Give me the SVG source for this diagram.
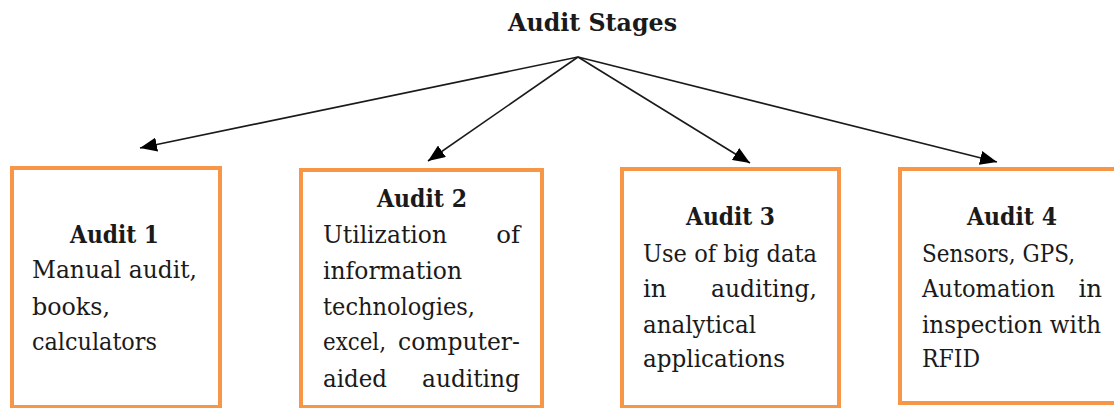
<svg xmlns="http://www.w3.org/2000/svg" width="1114" height="408" viewBox="0 0 1114 408">
  <style>
    .box { fill: #ffffff; stroke: #F79646; stroke-width: 4; }
    .t { font-family: "DejaVu Serif", "Liberation Serif", serif; font-size: 24.5px; fill: #1a1a1a; }
    .h { font-family: "DejaVu Serif", "Liberation Serif", serif; font-size: 24.5px; font-weight: bold; fill: #1a1a1a; text-anchor: middle; }
    .title { font-family: "DejaVu Serif", "Liberation Serif", serif; font-size: 25px; font-weight: bold; fill: #1a1a1a; text-anchor: middle; }
    .edge { stroke: #1a1a1a; stroke-width: 1.6; fill: none; marker-end: url(#arrow); }
  </style>
  <defs>
    <marker id="arrow" markerUnits="userSpaceOnUse" markerWidth="18" markerHeight="14" refX="17" refY="7" orient="auto">
      <path d="M0,0 L17,7 L0,14 Z" fill="#000000"/>
    </marker>
  </defs>
  <rect width="1114" height="408" fill="#ffffff"/>

  <g id="title">
    <text class="title" x="592.5" y="31" textLength="169" lengthAdjust="spacingAndGlyphs">Audit Stages</text>
  </g>

  <g id="connectors">
    <line class="edge" x1="578" y1="57" x2="140" y2="148"/>
    <line class="edge" x1="578" y1="57" x2="428" y2="161"/>
    <line class="edge" x1="578" y1="57" x2="750" y2="163"/>
    <line class="edge" x1="578" y1="57" x2="997" y2="162"/>
  </g>

  <g id="audit1">
    <rect class="box" x="12" y="168" width="208" height="239"/>
    <text class="h" x="114.5" y="243" textLength="89" lengthAdjust="spacingAndGlyphs">Audit 1</text>
    <text class="t" x="32" y="278" textLength="165" lengthAdjust="spacingAndGlyphs">Manual audit,</text>
    <text class="t" x="32" y="315" textLength="78" lengthAdjust="spacingAndGlyphs">books,</text>
    <text class="t" x="32" y="350" textLength="125" lengthAdjust="spacingAndGlyphs">calculators</text>
  </g>

  <g id="audit2">
    <rect class="box" x="301" y="170" width="241" height="237"/>
    <text class="h" x="422" y="207" textLength="90" lengthAdjust="spacingAndGlyphs">Audit 2</text>
    <text class="t" x="323" y="243" textLength="124" lengthAdjust="spacingAndGlyphs">Utilization</text>
    <text class="t" x="520" y="243" text-anchor="end">of</text>
    <text class="t" x="323" y="279" textLength="139" lengthAdjust="spacingAndGlyphs">information</text>
    <text class="t" x="323" y="315" textLength="152" lengthAdjust="spacingAndGlyphs">technologies,</text>
    <text class="t" x="323" y="350" textLength="63" lengthAdjust="spacingAndGlyphs">excel,</text>
    <text class="t" x="398" y="350" textLength="122" lengthAdjust="spacingAndGlyphs">computer-</text>
    <text class="t" x="323" y="387" textLength="64" lengthAdjust="spacingAndGlyphs">aided</text>
    <text class="t" x="422" y="387" textLength="98" lengthAdjust="spacingAndGlyphs">auditing</text>
  </g>

  <g id="audit3">
    <rect class="box" x="622" y="169" width="217" height="238"/>
    <text class="h" x="730.5" y="225" textLength="89" lengthAdjust="spacingAndGlyphs">Audit 3</text>
    <text class="t" x="643" y="262" textLength="174" lengthAdjust="spacingAndGlyphs">Use of big data</text>
    <text class="t" x="643" y="297">in</text>
    <text class="t" x="711" y="297" textLength="106" lengthAdjust="spacingAndGlyphs">auditing,</text>
    <text class="t" x="643" y="333" textLength="113" lengthAdjust="spacingAndGlyphs">analytical</text>
    <text class="t" x="643" y="367" textLength="142" lengthAdjust="spacingAndGlyphs">applications</text>
  </g>

  <g id="audit4">
    <rect class="box" x="900" y="169" width="230" height="234"/>
    <text class="h" x="1012" y="225" textLength="90" lengthAdjust="spacingAndGlyphs">Audit 4</text>
    <text class="t" x="922" y="262" textLength="153" lengthAdjust="spacingAndGlyphs">Sensors, GPS,</text>
    <text class="t" x="922" y="297" textLength="133" lengthAdjust="spacingAndGlyphs">Automation</text>
    <text class="t" x="1102" y="297" text-anchor="end">in</text>
    <text class="t" x="922" y="333" textLength="179" lengthAdjust="spacingAndGlyphs">inspection with</text>
    <text class="t" x="922" y="367" textLength="58" lengthAdjust="spacingAndGlyphs">RFID</text>
  </g>
</svg>
